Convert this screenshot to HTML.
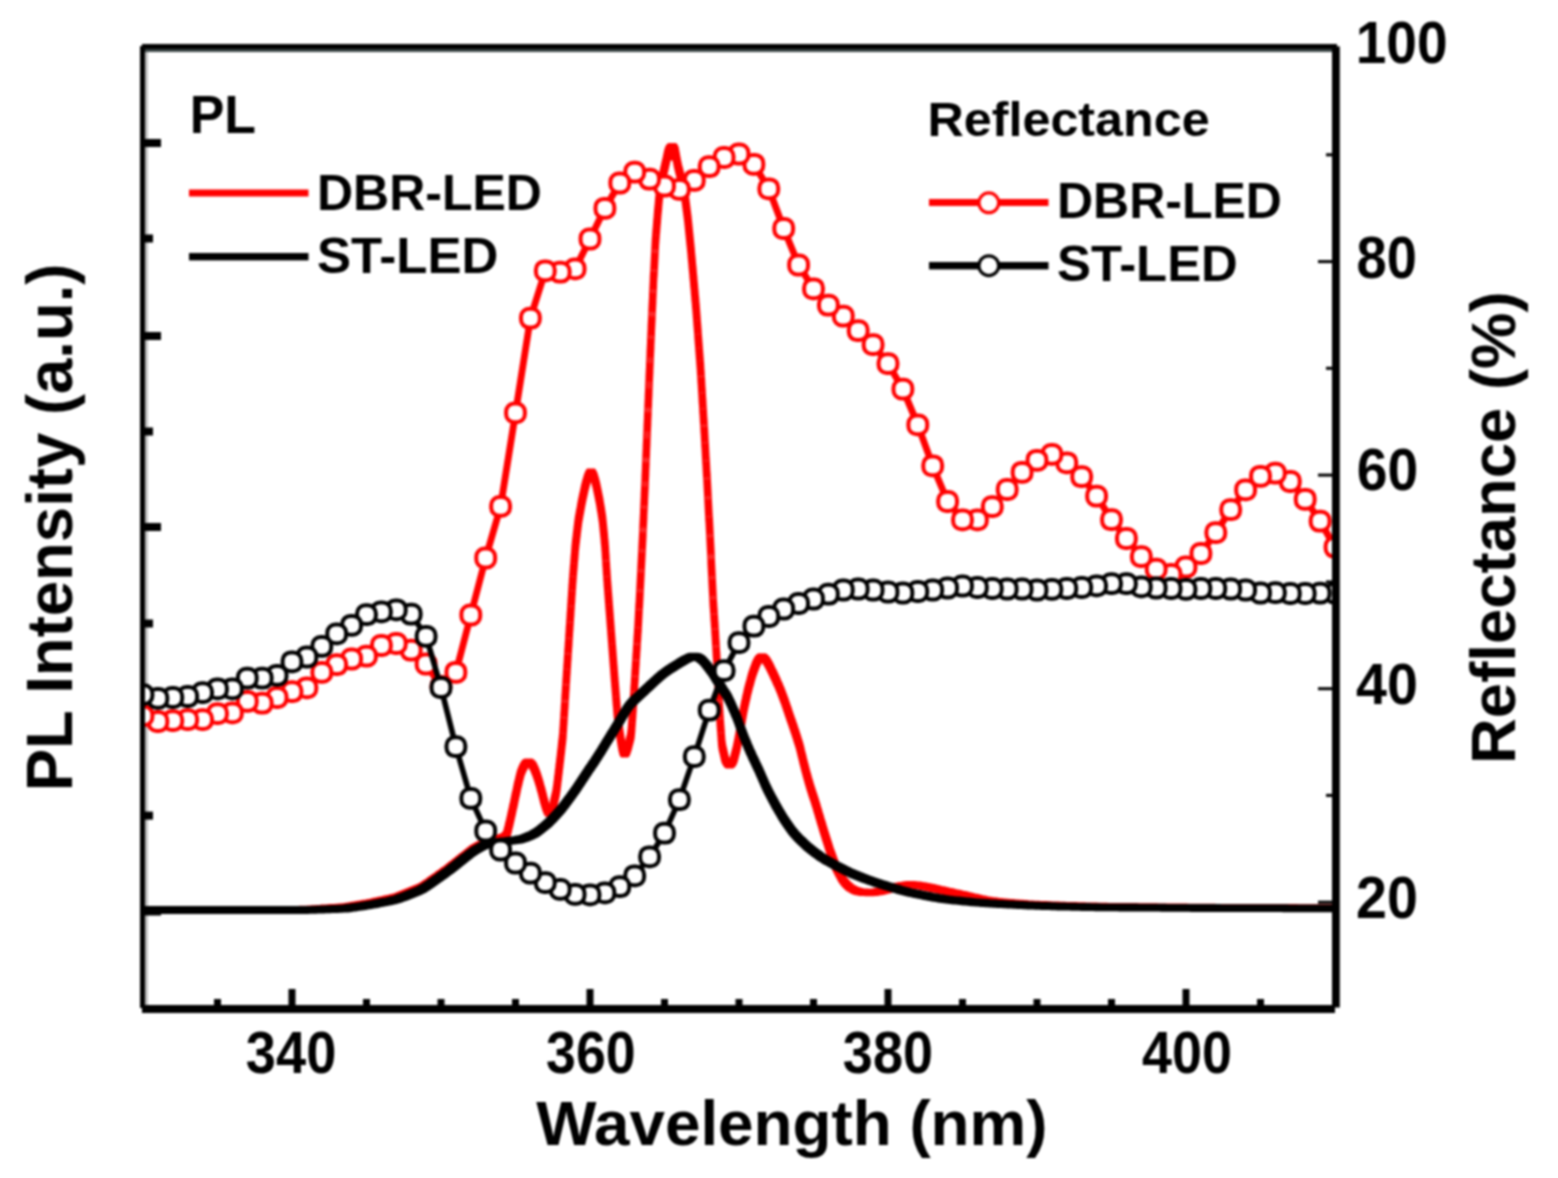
<!DOCTYPE html>
<html lang="en">
<head>
<meta charset="utf-8">
<title>PL Intensity and Reflectance</title>
<style>
html,body{margin:0;padding:0;background:#fff;}
body{width:1558px;height:1178px;overflow:hidden;}
svg{display:block;filter:blur(0.9px);}
text{font-family:"Liberation Sans",sans-serif;font-weight:bold;fill:#000;}
.tk{font-size:56px;}
.lg{font-size:50px;}
.ax{font-size:64px;}
</style>
</head>
<body>
<svg width="1558" height="1178" viewBox="0 0 1558 1178">
<rect x="0" y="0" width="1558" height="1178" fill="#fff"/>
<defs><clipPath id="plot"><rect x="142" y="46" width="1194" height="962"/></clipPath></defs>

<g fill="#000">
<rect x="145" y="49" width="3" height="956" fill="#c0c0c0"/>
<rect x="145" y="49" width="1187" height="3" fill="#3c4646"/>
<rect x="145" y="139" width="16" height="8"/>
<rect x="145" y="234.5" width="8" height="8"/>
<rect x="145" y="332" width="16" height="8"/>
<rect x="145" y="427.5" width="8" height="8"/>
<rect x="145" y="523" width="16" height="8"/>
<rect x="145" y="619.5" width="8" height="8"/>
<rect x="145" y="715.5" width="16" height="8"/>
<rect x="145" y="811.6" width="8" height="8"/>
<rect x="145" y="907.5" width="16" height="8"/>
<rect x="214.0" y="999" width="7" height="6"/>
<rect x="288.5" y="989" width="7" height="16"/>
<rect x="363.0" y="999" width="7" height="6"/>
<rect x="437.5" y="999" width="7" height="6"/>
<rect x="512.0" y="999" width="7" height="6"/>
<rect x="586.5" y="989" width="7" height="16"/>
<rect x="661.0" y="999" width="7" height="6"/>
<rect x="735.5" y="999" width="7" height="6"/>
<rect x="810.0" y="999" width="7" height="6"/>
<rect x="884.5" y="989" width="7" height="16"/>
<rect x="959.0" y="999" width="7" height="6"/>
<rect x="1033.5" y="999" width="7" height="6"/>
<rect x="1108.0" y="999" width="7" height="6"/>
<rect x="1182.5" y="989" width="7" height="16"/>
<rect x="1257.0" y="999" width="7" height="6"/>
<rect x="1318" y="900.7" width="14" height="3"/>
<rect x="1326" y="793.9" width="6" height="3"/>
<rect x="1318" y="687.2" width="14" height="3"/>
<rect x="1326" y="580.4" width="6" height="3"/>
<rect x="1318" y="473.6" width="14" height="3"/>
<rect x="1326" y="366.8" width="6" height="3"/>
<rect x="1318" y="260.1" width="14" height="3"/>
<rect x="1326" y="153.3" width="6" height="3"/>
</g>
<g clip-path="url(#plot)">
<filter id="sq" filterUnits="userSpaceOnUse" x="100" y="20" width="1300" height="1020"><feMorphology operator="dilate" radius="3"/></filter>
<path d="M143.0,910.0 L145.3,910.0 L147.1,910.0 L149.0,910.0 L151.0,910.0 L153.0,910.0 L155.0,910.0 L157.0,910.0 L159.0,910.0 L161.0,910.0 L163.0,910.0 L165.0,910.0 L167.0,910.0 L169.0,910.0 L171.0,910.0 L173.0,910.0 L175.0,910.0 L177.0,910.0 L179.0,910.0 L181.0,910.0 L183.0,910.0 L185.0,910.0 L187.0,910.0 L189.0,910.0 L191.0,910.0 L193.0,910.0 L195.0,910.0 L197.0,910.0 L199.0,910.0 L201.0,910.0 L203.0,910.0 L205.0,910.0 L207.0,910.0 L209.0,910.0 L211.0,910.0 L213.0,910.0 L215.0,910.0 L217.0,910.0 L219.0,910.0 L221.0,910.0 L223.0,910.0 L225.0,910.0 L227.0,910.0 L229.0,910.0 L231.0,910.0 L233.0,910.0 L235.0,910.0 L237.0,910.0 L239.0,910.0 L241.0,910.0 L243.0,910.0 L245.0,910.0 L247.0,910.0 L249.0,910.0 L251.0,910.0 L253.0,910.0 L255.0,910.0 L257.0,910.0 L259.0,910.0 L261.0,910.0 L263.0,910.0 L265.0,909.9 L267.0,909.9 L269.0,909.9 L271.0,909.9 L273.0,909.9 L275.0,909.8 L277.0,909.8 L279.0,909.8 L281.0,909.8 L283.0,909.8 L285.0,909.7 L287.0,909.7 L289.0,909.7 L291.0,909.7 L293.0,909.6 L295.0,909.6 L297.0,909.6 L299.0,909.6 L301.0,909.6 L303.0,909.5 L305.0,909.5 L307.0,909.4 L309.0,909.4 L311.0,909.2 L313.0,909.1 L315.0,909.0 L317.0,908.9 L319.0,908.7 L321.0,908.6 L323.0,908.5 L325.0,908.3 L327.0,908.2 L329.0,908.1 L330.9,907.9 L332.9,907.8 L334.9,907.7 L336.9,907.6 L338.9,907.4 L340.9,907.3 L342.9,907.1 L344.9,906.9 L346.9,906.7 L348.9,906.4 L350.8,906.1 L352.8,905.8 L354.8,905.4 L356.8,905.1 L358.7,904.8 L360.7,904.4 L362.7,904.1 L364.6,903.8 L366.6,903.4 L368.6,903.1 L370.6,902.7 L372.5,902.4 L374.5,902.0 L376.4,901.5 L378.4,901.1 L380.3,900.7 L382.3,900.3 L384.3,899.9 L386.2,899.4 L388.2,899.0 L390.1,898.6 L392.1,898.2 L394.0,897.7 L396.0,897.2 L397.9,896.6 L399.7,895.9 L401.6,895.2 L403.4,894.5 L405.3,893.7 L407.2,893.0 L409.0,892.2 L410.9,891.5 L412.7,890.7 L414.6,890.0 L416.4,889.2 L418.3,888.5 L420.1,887.7 L421.9,886.8 L423.6,885.8 L425.3,884.7 L426.9,883.6 L428.6,882.5 L430.2,881.3 L431.8,880.2 L433.5,879.0 L435.1,877.9 L436.8,876.7 L438.4,875.6 L440.0,874.4 L441.7,873.3 L443.3,872.1 L444.9,870.9 L446.6,869.8 L448.2,868.6 L449.8,867.4 L451.3,866.1 L452.9,864.9 L454.5,863.7 L456.0,862.4 L457.6,861.2 L459.2,859.9 L460.7,858.7 L462.3,857.4 L463.9,856.2 L465.4,855.0 L467.0,853.7 L468.6,852.5 L470.1,851.2 L471.7,850.0 L473.3,848.9 L475.0,847.8 L476.8,846.8 L478.5,845.9 L480.3,845.0 L482.1,844.0 L483.9,843.1 L485.7,842.3 L487.5,841.5 L489.4,840.9 L491.3,840.3 L493.2,839.8 L495.2,839.3 L497.1,838.8 L499.0,838.3 L501.0,837.9 L502.9,837.4 L504.5,836.7 L505.8,835.6 L506.7,834.0 L507.3,832.2 L507.8,830.3 L508.3,828.4 L508.7,826.4 L509.2,824.5 L509.7,822.5 L510.1,820.6 L510.6,818.6 L511.0,816.7 L511.4,814.7 L511.9,812.8 L512.3,810.8 L512.7,808.9 L513.1,806.9 L513.6,805.0 L514.0,803.0 L514.4,801.1 L514.8,799.1 L515.2,797.1 L515.6,795.2 L516.1,793.2 L516.5,791.3 L516.9,789.3 L517.3,787.4 L517.7,785.4 L518.2,783.5 L518.7,781.5 L519.1,779.6 L519.6,777.6 L520.1,775.7 L520.6,773.8 L521.2,771.9 L522.0,770.0 L522.8,768.2 L523.7,766.4 L524.7,764.8 L525.9,763.3 L527.3,762.4 L528.8,762.2 L530.2,762.8 L531.5,764.0 L532.7,765.5 L533.6,767.2 L534.5,769.0 L535.2,770.9 L536.0,772.7 L536.6,774.6 L537.3,776.5 L537.9,778.4 L538.5,780.3 L539.1,782.2 L539.7,784.1 L540.2,786.1 L540.7,788.0 L541.3,789.9 L541.8,791.8 L542.3,793.8 L542.8,795.7 L543.3,797.7 L543.7,799.6 L544.3,801.5 L544.8,803.4 L545.4,805.4 L546.0,807.3 L546.7,809.1 L547.4,810.9 L548.3,812.4 L549.2,813.2 L550.2,812.9 L551.1,811.8 L551.9,810.1 L552.5,808.3 L553.0,806.4 L553.5,804.4 L553.9,802.5 L554.3,800.5 L554.8,798.6 L555.2,796.6 L555.7,794.7 L556.1,792.7 L556.4,790.7 L556.7,788.8 L557.0,786.8 L557.2,784.8 L557.5,782.8 L557.7,780.8 L557.9,778.8 L558.2,776.9 L558.4,774.9 L558.6,772.9 L558.9,770.9 L559.1,768.9 L559.3,766.9 L559.6,764.9 L559.8,762.9 L560.0,761.0 L560.3,759.0 L560.5,757.0 L560.7,755.0 L560.9,753.0 L561.2,751.0 L561.4,749.0 L561.6,747.0 L561.8,745.1 L562.0,743.1 L562.3,741.1 L562.5,739.1 L562.7,737.1 L562.9,735.1 L563.0,733.1 L563.1,731.1 L563.3,729.1 L563.4,727.1 L563.5,725.1 L563.6,723.1 L563.8,721.1 L563.9,719.2 L564.0,717.2 L564.1,715.2 L564.3,713.2 L564.4,711.2 L564.5,709.2 L564.6,707.2 L564.8,705.2 L564.9,703.2 L565.0,701.2 L565.1,699.2 L565.2,697.2 L565.4,695.2 L565.5,693.2 L565.6,691.2 L565.7,689.2 L565.9,687.2 L566.0,685.2 L566.1,683.2 L566.2,681.2 L566.4,679.2 L566.5,677.2 L566.6,675.2 L566.7,673.2 L566.9,671.2 L567.0,669.2 L567.1,667.3 L567.3,665.3 L567.4,663.3 L567.5,661.3 L567.6,659.3 L567.8,657.3 L567.9,655.3 L568.0,653.3 L568.1,651.3 L568.3,649.3 L568.4,647.3 L568.5,645.3 L568.7,643.3 L568.8,641.3 L568.9,639.3 L569.0,637.3 L569.2,635.3 L569.3,633.3 L569.4,631.3 L569.5,629.3 L569.7,627.3 L569.8,625.3 L569.9,623.3 L570.1,621.3 L570.2,619.3 L570.3,617.4 L570.4,615.4 L570.6,613.4 L570.7,611.4 L570.8,609.4 L570.9,607.4 L571.1,605.4 L571.2,603.4 L571.3,601.4 L571.5,599.4 L571.6,597.4 L571.7,595.4 L571.8,593.4 L572.0,591.4 L572.1,589.4 L572.2,587.4 L572.4,585.4 L572.5,583.4 L572.6,581.4 L572.8,579.4 L572.9,577.4 L573.1,575.4 L573.2,573.5 L573.4,571.5 L573.5,569.5 L573.7,567.5 L573.9,565.5 L574.0,563.5 L574.2,561.5 L574.3,559.5 L574.5,557.5 L574.7,555.5 L574.8,553.5 L575.0,551.5 L575.1,549.5 L575.3,547.5 L575.5,545.5 L575.7,543.6 L575.9,541.6 L576.2,539.6 L576.4,537.6 L576.6,535.6 L576.9,533.6 L577.1,531.6 L577.3,529.7 L577.6,527.7 L577.8,525.7 L578.1,523.7 L578.3,521.7 L578.6,519.7 L578.9,517.8 L579.3,515.8 L579.6,513.8 L580.0,511.9 L580.4,509.9 L580.7,507.9 L581.1,506.0 L581.4,504.0 L581.8,502.0 L582.2,500.1 L582.6,498.1 L583.0,496.2 L583.5,494.2 L583.9,492.2 L584.3,490.3 L584.7,488.3 L585.2,486.4 L585.7,484.5 L586.2,482.5 L586.8,480.6 L587.3,478.7 L588.0,476.8 L588.7,475.0 L589.5,473.4 L590.4,472.3 L591.3,472.1 L592.2,473.0 L593.1,474.5 L593.8,476.3 L594.4,478.1 L595.0,480.1 L595.5,482.0 L596.0,483.9 L596.5,485.9 L596.9,487.8 L597.3,489.8 L597.7,491.7 L598.1,493.7 L598.5,495.7 L598.9,497.6 L599.3,499.6 L599.7,501.5 L600.0,503.5 L600.3,505.5 L600.6,507.5 L601.0,509.4 L601.3,511.4 L601.6,513.4 L601.9,515.4 L602.2,517.4 L602.5,519.3 L602.7,521.3 L602.9,523.3 L603.1,525.3 L603.3,527.3 L603.5,529.3 L603.7,531.3 L603.9,533.3 L604.1,535.2 L604.3,537.2 L604.4,539.2 L604.6,541.2 L604.8,543.2 L605.0,545.2 L605.1,547.2 L605.3,549.2 L605.4,551.2 L605.5,553.2 L605.6,555.2 L605.8,557.2 L605.9,559.2 L606.0,561.2 L606.1,563.2 L606.3,565.2 L606.4,567.2 L606.5,569.2 L606.6,571.2 L606.8,573.1 L606.9,575.1 L607.0,577.1 L607.2,579.1 L607.3,581.1 L607.4,583.1 L607.6,585.1 L607.7,587.1 L607.9,589.1 L608.0,591.1 L608.2,593.1 L608.3,595.1 L608.5,597.1 L608.6,599.1 L608.8,601.1 L608.9,603.1 L609.1,605.1 L609.2,607.1 L609.4,609.1 L609.5,611.0 L609.7,613.0 L609.8,615.0 L610.0,617.0 L610.1,619.0 L610.3,621.0 L610.4,623.0 L610.6,625.0 L610.7,627.0 L610.9,629.0 L611.0,631.0 L611.2,633.0 L611.3,635.0 L611.5,637.0 L611.6,639.0 L611.8,641.0 L611.9,643.0 L612.1,645.0 L612.2,646.9 L612.4,648.9 L612.5,650.9 L612.7,652.9 L612.8,654.9 L613.0,656.9 L613.1,658.9 L613.3,660.9 L613.4,662.9 L613.6,664.9 L613.7,666.9 L613.9,668.9 L614.0,670.9 L614.2,672.9 L614.3,674.9 L614.5,676.9 L614.6,678.9 L614.8,680.8 L614.9,682.8 L615.1,684.8 L615.3,686.8 L615.4,688.8 L615.6,690.8 L615.7,692.8 L615.9,694.8 L616.0,696.8 L616.2,698.8 L616.3,700.8 L616.5,702.8 L616.7,704.8 L616.8,706.8 L617.0,708.8 L617.1,710.8 L617.3,712.7 L617.5,714.7 L617.8,716.7 L618.0,718.7 L618.2,720.7 L618.5,722.7 L618.7,724.7 L619.0,726.6 L619.2,728.6 L619.4,730.6 L619.7,732.6 L620.0,734.6 L620.3,736.6 L620.6,738.5 L620.9,740.5 L621.2,742.5 L621.6,744.5 L621.9,746.4 L622.3,748.4 L622.8,750.3 L623.3,752.1 L624.0,753.4 L624.7,753.9 L625.5,753.3 L626.3,751.9 L627.0,750.1 L627.6,748.2 L628.2,746.3 L628.7,744.4 L629.2,742.4 L629.7,740.5 L630.2,738.6 L630.7,736.6 L631.0,734.7 L631.2,732.7 L631.4,730.7 L631.6,728.7 L631.7,726.7 L631.8,724.7 L632.0,722.7 L632.1,720.7 L632.3,718.7 L632.4,716.7 L632.6,714.7 L632.7,712.7 L632.8,710.7 L633.0,708.7 L633.1,706.7 L633.2,704.7 L633.4,702.8 L633.5,700.8 L633.6,698.8 L633.7,696.8 L633.9,694.8 L634.0,692.8 L634.1,690.8 L634.2,688.8 L634.4,686.8 L634.5,684.8 L634.6,682.8 L634.7,680.8 L634.9,678.8 L635.0,676.8 L635.1,674.8 L635.2,672.8 L635.4,670.8 L635.5,668.8 L635.6,666.8 L635.7,664.8 L635.9,662.8 L636.0,660.8 L636.1,658.8 L636.2,656.8 L636.4,654.8 L636.5,652.9 L636.6,650.9 L636.7,648.9 L636.9,646.9 L637.0,644.9 L637.1,642.9 L637.2,640.9 L637.3,638.9 L637.5,636.9 L637.6,634.9 L637.7,632.9 L637.8,630.9 L638.0,628.9 L638.1,626.9 L638.2,624.9 L638.3,622.9 L638.4,620.9 L638.5,618.9 L638.6,616.9 L638.7,614.9 L638.8,612.9 L638.9,610.9 L639.0,608.9 L639.1,606.9 L639.3,604.9 L639.4,602.9 L639.5,600.9 L639.6,598.9 L639.7,596.9 L639.8,594.9 L639.9,592.9 L640.0,591.0 L640.1,589.0 L640.2,587.0 L640.3,585.0 L640.4,583.0 L640.5,581.0 L640.6,579.0 L640.7,577.0 L640.8,575.0 L640.9,573.0 L641.0,571.0 L641.1,569.0 L641.2,567.0 L641.3,565.0 L641.4,563.0 L641.5,561.0 L641.6,559.0 L641.7,557.0 L641.8,555.0 L641.9,553.0 L642.0,551.0 L642.1,549.0 L642.2,547.0 L642.3,545.0 L642.4,543.0 L642.5,541.0 L642.6,539.0 L642.7,537.0 L642.8,535.0 L642.9,533.0 L642.9,531.0 L643.0,529.0 L643.1,527.0 L643.2,525.0 L643.3,523.0 L643.4,521.0 L643.5,519.0 L643.6,517.0 L643.7,515.0 L643.7,513.0 L643.8,511.0 L643.9,509.0 L644.0,507.0 L644.1,505.0 L644.2,503.1 L644.3,501.1 L644.4,499.1 L644.4,497.1 L644.5,495.1 L644.6,493.1 L644.7,491.1 L644.8,489.1 L644.9,487.1 L645.0,485.1 L645.1,483.1 L645.2,481.1 L645.2,479.1 L645.3,477.1 L645.4,475.1 L645.5,473.1 L645.6,471.1 L645.6,469.1 L645.7,467.1 L645.8,465.1 L645.9,463.1 L646.0,461.1 L646.0,459.1 L646.1,457.1 L646.2,455.1 L646.3,453.1 L646.4,451.1 L646.4,449.1 L646.5,447.1 L646.6,445.1 L646.7,443.1 L646.8,441.1 L646.8,439.1 L646.9,437.1 L647.0,435.1 L647.1,433.1 L647.2,431.1 L647.2,429.1 L647.3,427.1 L647.4,425.1 L647.5,423.1 L647.6,421.1 L647.6,419.1 L647.7,417.1 L647.8,415.1 L647.9,413.1 L648.0,411.1 L648.0,409.1 L648.1,407.1 L648.2,405.1 L648.3,403.1 L648.4,401.1 L648.4,399.1 L648.5,397.1 L648.6,395.1 L648.7,393.1 L648.8,391.1 L648.8,389.1 L648.9,387.1 L649.0,385.1 L649.1,383.2 L649.2,381.2 L649.2,379.2 L649.3,377.2 L649.4,375.2 L649.5,373.2 L649.6,371.2 L649.7,369.2 L649.7,367.2 L649.8,365.2 L649.9,363.2 L650.0,361.2 L650.1,359.2 L650.2,357.2 L650.2,355.2 L650.3,353.2 L650.4,351.2 L650.5,349.2 L650.6,347.2 L650.7,345.2 L650.7,343.2 L650.8,341.2 L650.9,339.2 L651.0,337.2 L651.1,335.2 L651.2,333.2 L651.3,331.2 L651.3,329.2 L651.4,327.2 L651.5,325.2 L651.6,323.2 L651.7,321.2 L651.8,319.2 L651.9,317.2 L652.0,315.2 L652.0,313.2 L652.1,311.2 L652.2,309.2 L652.3,307.2 L652.4,305.2 L652.5,303.2 L652.6,301.2 L652.7,299.2 L652.7,297.2 L652.8,295.2 L652.9,293.2 L653.0,291.2 L653.1,289.2 L653.2,287.2 L653.3,285.2 L653.4,283.2 L653.4,281.2 L653.5,279.2 L653.6,277.2 L653.7,275.3 L653.9,273.3 L654.0,271.3 L654.1,269.3 L654.2,267.3 L654.3,265.3 L654.4,263.3 L654.5,261.3 L654.6,259.3 L654.7,257.3 L654.8,255.3 L654.9,253.3 L655.0,251.3 L655.1,249.3 L655.2,247.3 L655.3,245.3 L655.4,243.3 L655.5,241.3 L655.7,239.3 L655.8,237.3 L656.0,235.3 L656.1,233.3 L656.3,231.3 L656.5,229.3 L656.6,227.3 L656.8,225.3 L656.9,223.4 L657.1,221.4 L657.3,219.4 L657.4,217.4 L657.6,215.4 L657.7,213.4 L657.9,211.4 L658.1,209.4 L658.3,207.4 L658.5,205.4 L658.6,203.4 L658.8,201.4 L659.0,199.4 L659.2,197.5 L659.4,195.5 L659.7,193.5 L660.0,191.5 L660.3,189.5 L660.6,187.6 L661.0,185.6 L661.3,183.6 L661.6,181.6 L662.0,179.7 L662.3,177.7 L662.8,175.8 L663.2,173.8 L663.7,171.9 L664.1,169.9 L664.6,168.0 L665.0,166.0 L665.5,164.1 L665.9,162.1 L666.4,160.2 L666.8,158.2 L667.2,156.3 L667.6,154.3 L668.1,152.4 L668.7,150.5 L669.5,148.8 L670.6,147.4 L671.9,146.7 L673.1,147.0 L674.1,148.2 L674.8,149.8 L675.3,151.7 L675.6,153.7 L676.0,155.7 L676.3,157.6 L676.7,159.6 L677.1,161.6 L677.4,163.5 L677.9,165.5 L678.3,167.4 L678.8,169.4 L679.3,171.3 L679.8,173.2 L680.3,175.2 L680.8,177.1 L681.3,179.1 L681.8,181.0 L682.2,182.9 L682.7,184.9 L683.1,186.8 L683.5,188.8 L683.9,190.8 L684.2,192.7 L684.6,194.7 L684.9,196.7 L685.2,198.6 L685.5,200.6 L685.8,202.6 L686.0,204.6 L686.3,206.6 L686.5,208.6 L686.8,210.5 L687.0,212.5 L687.3,214.5 L687.5,216.5 L687.8,218.5 L688.0,220.5 L688.2,222.5 L688.4,224.4 L688.6,226.4 L688.8,228.4 L689.0,230.4 L689.2,232.4 L689.4,234.4 L689.6,236.4 L689.8,238.4 L690.0,240.4 L690.2,242.4 L690.4,244.3 L690.6,246.3 L690.8,248.3 L691.0,250.3 L691.2,252.3 L691.3,254.3 L691.5,256.3 L691.7,258.3 L691.9,260.3 L692.1,262.3 L692.2,264.3 L692.4,266.3 L692.6,268.2 L692.8,270.2 L693.0,272.2 L693.1,274.2 L693.3,276.2 L693.5,278.2 L693.7,280.2 L693.8,282.2 L694.0,284.2 L694.2,286.2 L694.4,288.2 L694.5,290.2 L694.7,292.2 L694.9,294.1 L695.0,296.1 L695.2,298.1 L695.4,300.1 L695.6,302.1 L695.7,304.1 L695.9,306.1 L696.1,308.1 L696.2,310.1 L696.4,312.1 L696.5,314.1 L696.7,316.1 L696.8,318.1 L697.0,320.1 L697.1,322.1 L697.3,324.1 L697.4,326.0 L697.6,328.0 L697.7,330.0 L697.9,332.0 L698.0,334.0 L698.1,336.0 L698.3,338.0 L698.4,340.0 L698.6,342.0 L698.7,344.0 L698.9,346.0 L699.0,348.0 L699.2,350.0 L699.3,352.0 L699.5,354.0 L699.6,356.0 L699.8,358.0 L699.9,360.0 L700.1,361.9 L700.2,363.9 L700.4,365.9 L700.5,367.9 L700.6,369.9 L700.7,371.9 L700.9,373.9 L701.0,375.9 L701.1,377.9 L701.2,379.9 L701.4,381.9 L701.5,383.9 L701.6,385.9 L701.7,387.9 L701.8,389.9 L702.0,391.9 L702.1,393.9 L702.2,395.9 L702.3,397.9 L702.4,399.9 L702.6,401.9 L702.7,403.9 L702.8,405.9 L702.9,407.9 L703.0,409.9 L703.2,411.9 L703.3,413.8 L703.4,415.8 L703.5,417.8 L703.6,419.8 L703.8,421.8 L703.9,423.8 L704.0,425.8 L704.1,427.8 L704.2,429.8 L704.4,431.8 L704.5,433.8 L704.6,435.8 L704.7,437.8 L704.8,439.8 L704.9,441.8 L705.0,443.8 L705.2,445.8 L705.3,447.8 L705.4,449.8 L705.5,451.8 L705.6,453.8 L705.7,455.8 L705.8,457.8 L705.9,459.8 L706.1,461.8 L706.2,463.8 L706.3,465.8 L706.4,467.8 L706.5,469.8 L706.6,471.8 L706.7,473.7 L706.9,475.7 L707.0,477.7 L707.1,479.7 L707.2,481.7 L707.3,483.7 L707.4,485.7 L707.5,487.7 L707.6,489.7 L707.7,491.7 L707.8,493.7 L707.9,495.7 L708.0,497.7 L708.1,499.7 L708.2,501.7 L708.3,503.7 L708.4,505.7 L708.5,507.7 L708.6,509.7 L708.7,511.7 L708.8,513.7 L708.9,515.7 L709.0,517.7 L709.2,519.7 L709.3,521.7 L709.4,523.7 L709.5,525.7 L709.6,527.7 L709.7,529.7 L709.8,531.7 L709.9,533.7 L710.0,535.7 L710.1,537.7 L710.2,539.7 L710.3,541.7 L710.4,543.7 L710.5,545.7 L710.6,547.6 L710.7,549.6 L710.8,551.6 L710.9,553.6 L711.0,555.6 L711.1,557.6 L711.1,559.6 L711.2,561.6 L711.3,563.6 L711.4,565.6 L711.5,567.6 L711.6,569.6 L711.7,571.6 L711.8,573.6 L711.9,575.6 L712.0,577.6 L712.1,579.6 L712.2,581.6 L712.3,583.6 L712.4,585.6 L712.5,587.6 L712.6,589.6 L712.7,591.6 L712.8,593.6 L712.9,595.6 L713.0,597.6 L713.1,599.6 L713.2,601.6 L713.3,603.6 L713.5,605.6 L713.6,607.6 L713.7,609.6 L713.9,611.6 L714.0,613.6 L714.1,615.6 L714.2,617.6 L714.4,619.5 L714.5,621.5 L714.6,623.5 L714.8,625.5 L714.9,627.5 L715.0,629.5 L715.1,631.5 L715.3,633.5 L715.4,635.5 L715.5,637.5 L715.6,639.5 L715.7,641.5 L715.9,643.5 L716.0,645.5 L716.1,647.5 L716.2,649.5 L716.3,651.5 L716.4,653.5 L716.6,655.5 L716.7,657.5 L716.8,659.5 L716.9,661.5 L717.0,663.5 L717.1,665.5 L717.2,667.5 L717.3,669.5 L717.4,671.5 L717.5,673.5 L717.6,675.5 L717.7,677.4 L717.8,679.4 L718.0,681.4 L718.1,683.4 L718.2,685.4 L718.3,687.4 L718.4,689.4 L718.5,691.4 L718.6,693.4 L718.7,695.4 L718.8,697.4 L718.9,699.4 L719.0,701.4 L719.1,703.4 L719.2,705.4 L719.3,707.4 L719.4,709.4 L719.5,711.4 L719.7,713.4 L719.8,715.4 L719.9,717.4 L720.1,719.4 L720.2,721.4 L720.3,723.4 L720.5,725.4 L720.6,727.4 L720.8,729.4 L720.9,731.4 L721.1,733.3 L721.2,735.3 L721.3,737.3 L721.5,739.3 L721.6,741.3 L721.8,743.3 L722.1,745.3 L722.4,747.3 L722.8,749.2 L723.3,751.2 L723.7,753.1 L724.2,755.1 L724.6,757.0 L725.1,758.9 L725.8,760.7 L726.8,762.4 L727.8,763.9 L729.0,764.7 L730.1,764.7 L731.3,763.7 L732.4,762.3 L733.3,760.6 L734.0,758.7 L734.5,756.8 L735.0,754.9 L735.5,752.9 L736.0,751.0 L736.5,749.1 L736.9,747.1 L737.3,745.1 L737.7,743.2 L738.1,741.2 L738.4,739.3 L738.8,737.3 L739.2,735.3 L739.5,733.3 L739.9,731.4 L740.2,729.4 L740.6,727.4 L740.9,725.5 L741.3,723.5 L741.6,721.5 L742.0,719.6 L742.3,717.6 L742.7,715.6 L743.0,713.7 L743.4,711.7 L743.7,709.7 L744.1,707.8 L744.5,705.8 L744.9,703.8 L745.4,701.9 L745.8,699.9 L746.2,698.0 L746.7,696.0 L747.1,694.1 L747.5,692.1 L748.0,690.2 L748.5,688.3 L749.0,686.3 L749.5,684.4 L750.1,682.5 L750.6,680.5 L751.1,678.6 L751.6,676.7 L752.2,674.8 L752.8,672.9 L753.5,671.0 L754.2,669.1 L754.9,667.2 L755.6,665.3 L756.3,663.5 L757.2,661.7 L758.2,660.0 L759.4,658.5 L760.6,657.4 L761.9,657.0 L763.3,657.5 L764.7,658.6 L765.9,660.0 L767.0,661.7 L768.0,663.4 L769.0,665.2 L769.9,666.9 L770.8,668.7 L771.6,670.5 L772.5,672.3 L773.4,674.1 L774.2,675.9 L775.1,677.7 L775.9,679.6 L776.7,681.4 L777.5,683.2 L778.4,685.0 L779.2,686.9 L779.9,688.7 L780.7,690.6 L781.4,692.4 L782.1,694.3 L782.8,696.2 L783.5,698.0 L784.2,699.9 L784.9,701.8 L785.5,703.7 L786.2,705.6 L786.8,707.5 L787.5,709.4 L788.1,711.3 L788.7,713.2 L789.4,715.1 L790.0,717.0 L790.7,718.9 L791.3,720.7 L792.0,722.6 L792.6,724.5 L793.3,726.4 L793.9,728.3 L794.5,730.2 L795.2,732.1 L795.8,734.0 L796.4,735.9 L797.0,737.8 L797.6,739.7 L798.2,741.6 L798.8,743.5 L799.4,745.4 L799.9,747.4 L800.4,749.3 L800.9,751.3 L801.3,753.2 L801.8,755.1 L802.3,757.1 L802.8,759.0 L803.2,761.0 L803.7,762.9 L804.2,764.9 L804.7,766.8 L805.2,768.7 L805.7,770.7 L806.2,772.6 L806.7,774.5 L807.3,776.5 L807.8,778.4 L808.3,780.3 L808.9,782.2 L809.5,784.2 L810.0,786.1 L810.6,788.0 L811.2,789.9 L811.8,791.8 L812.4,793.7 L813.0,795.6 L813.7,797.5 L814.3,799.4 L814.9,801.3 L815.5,803.2 L816.1,805.1 L816.7,807.0 L817.2,809.0 L817.8,810.9 L818.4,812.8 L818.9,814.7 L819.5,816.6 L820.1,818.5 L820.6,820.5 L821.2,822.4 L821.8,824.3 L822.4,826.2 L822.9,828.1 L823.5,830.0 L824.1,832.0 L824.7,833.9 L825.3,835.8 L825.9,837.7 L826.5,839.6 L827.1,841.5 L827.7,843.4 L828.3,845.3 L828.9,847.2 L829.5,849.1 L830.1,851.0 L830.8,852.9 L831.5,854.8 L832.2,856.7 L832.8,858.6 L833.5,860.4 L834.2,862.3 L834.9,864.2 L835.6,866.1 L836.3,867.9 L837.2,869.7 L838.1,871.5 L839.0,873.3 L840.0,875.0 L841.0,876.8 L841.9,878.5 L843.0,880.2 L844.2,881.8 L845.5,883.3 L846.8,884.7 L848.3,886.1 L849.8,887.4 L851.4,888.5 L853.1,889.4 L854.9,890.3 L856.8,891.0 L858.7,891.5 L860.6,891.9 L862.6,892.2 L864.6,892.3 L866.6,892.4 L868.6,892.5 L870.6,892.5 L872.5,892.4 L874.5,892.2 L876.5,891.9 L878.5,891.5 L880.4,891.2 L882.4,890.8 L884.3,890.4 L886.3,889.9 L888.2,889.3 L890.1,888.7 L892.0,888.1 L893.9,887.5 L895.8,887.0 L897.8,886.5 L899.7,886.2 L901.7,885.8 L903.7,885.6 L905.7,885.3 L907.6,885.0 L909.6,884.8 L911.6,884.8 L913.6,884.9 L915.6,885.1 L917.6,885.3 L919.5,885.6 L921.5,885.9 L923.5,886.2 L925.4,886.6 L927.4,887.0 L929.4,887.4 L931.3,887.8 L933.3,888.3 L935.2,888.7 L937.2,889.1 L939.1,889.6 L941.1,890.0 L943.0,890.5 L945.0,890.9 L946.9,891.4 L948.9,891.8 L950.8,892.2 L952.8,892.7 L954.7,893.1 L956.7,893.5 L958.6,893.9 L960.6,894.4 L962.5,894.8 L964.5,895.2 L966.4,895.7 L968.4,896.1 L970.3,896.6 L972.3,897.1 L974.2,897.5 L976.2,898.0 L978.1,898.4 L980.1,898.9 L982.0,899.3 L984.0,899.8 L985.9,900.1 L987.9,900.4 L989.9,900.7 L991.9,900.9 L993.9,901.2 L995.8,901.5 L997.8,901.7 L999.8,901.9 L1001.8,902.1 L1003.8,902.3 L1005.8,902.4 L1007.8,902.6 L1009.8,902.7 L1011.8,902.9 L1013.8,903.1 L1015.8,903.2 L1017.8,903.4 L1019.8,903.5 L1021.7,903.7 L1023.7,903.8 L1025.7,904.0 L1027.7,904.1 L1029.7,904.2 L1031.7,904.4 L1033.7,904.4 L1035.7,904.5 L1037.7,904.6 L1039.7,904.7 L1041.7,904.8 L1043.7,904.8 L1045.7,904.9 L1047.7,905.0 L1049.7,905.1 L1051.7,905.2 L1053.7,905.2 L1055.7,905.3 L1057.7,905.4 L1059.7,905.5 L1061.7,905.5 L1063.7,905.6 L1065.7,905.6 L1067.7,905.7 L1069.7,905.7 L1071.7,905.8 L1073.7,905.8 L1075.7,905.9 L1077.7,905.9 L1079.7,906.0 L1081.7,906.0 L1083.7,906.1 L1085.7,906.1 L1087.7,906.2 L1089.7,906.2 L1091.7,906.3 L1093.7,906.3 L1095.7,906.4 L1097.7,906.4 L1099.7,906.5 L1101.7,906.5 L1103.7,906.5 L1105.7,906.6 L1107.7,906.6 L1109.7,906.6 L1111.7,906.6 L1113.7,906.6 L1115.7,906.7 L1117.7,906.7 L1119.7,906.7 L1121.7,906.7 L1123.7,906.7 L1125.7,906.8 L1127.7,906.8 L1129.7,906.8 L1131.7,906.8 L1133.7,906.8 L1135.7,906.9 L1137.7,906.9 L1139.7,906.9 L1141.7,906.9 L1143.7,906.9 L1145.7,907.0 L1147.7,907.0 L1149.7,907.0 L1151.7,907.0 L1153.7,907.0 L1155.7,907.1 L1157.7,907.1 L1159.7,907.1 L1161.7,907.1 L1163.7,907.1 L1165.7,907.2 L1167.7,907.2 L1169.7,907.2 L1171.7,907.2 L1173.7,907.2 L1175.7,907.3 L1177.7,907.3 L1179.7,907.3 L1181.7,907.3 L1183.7,907.3 L1185.7,907.4 L1187.7,907.4 L1189.7,907.4 L1191.7,907.4 L1193.7,907.4 L1195.7,907.5 L1197.7,907.5 L1199.7,907.5 L1201.7,907.5 L1203.7,907.5 L1205.7,907.5 L1207.7,907.5 L1209.7,907.5 L1211.7,907.5 L1213.7,907.6 L1215.7,907.6 L1217.7,907.6 L1219.7,907.6 L1221.7,907.6 L1223.7,907.6 L1225.7,907.6 L1227.7,907.6 L1229.7,907.6 L1231.7,907.6 L1233.7,907.6 L1235.7,907.6 L1237.7,907.6 L1239.7,907.6 L1241.7,907.7 L1243.7,907.7 L1245.7,907.7 L1247.7,907.7 L1249.7,907.7 L1251.7,907.7 L1253.7,907.7 L1255.7,907.7 L1257.7,907.7 L1259.7,907.7 L1261.7,907.7 L1263.7,907.7 L1265.7,907.7 L1267.7,907.7 L1269.7,907.8 L1271.7,907.8 L1273.7,907.8 L1275.7,907.8 L1277.7,907.8 L1279.7,907.8 L1281.7,907.8 L1283.7,907.8 L1285.7,907.8 L1287.7,907.8 L1289.7,907.8 L1291.7,907.8 L1293.7,907.8 L1295.7,907.9 L1297.7,907.9 L1299.7,907.9 L1301.7,907.9 L1303.7,907.9 L1305.7,907.9 L1307.7,907.9 L1309.7,907.9 L1311.7,907.9 L1313.7,907.9 L1315.7,907.9 L1317.7,907.9 L1319.7,907.9 L1321.7,907.9 L1323.7,908.0 L1325.7,908.0 L1327.7,908.0 L1329.7,908.0 L1331.6,908.0 L1333.4,908.0 L1334.6,908.0 L1336.0,908.0" fill="none" stroke="#f00" stroke-width="1.4" stroke-linejoin="round" filter="url(#sq)"/>
<polygon points="667.5,149 677,149 675.2,160.5 669.6,160.5" fill="#f00"/>
<path d="M143.0,910.0 L145.8,910.0 L147.3,910.0 L149.1,910.0 L151.0,910.0 L153.0,910.0 L155.0,910.0 L157.0,910.0 L159.0,910.0 L161.0,910.0 L163.0,910.0 L165.0,910.0 L167.0,910.0 L169.0,910.0 L171.0,910.0 L173.0,910.0 L175.0,910.0 L177.0,910.0 L179.0,910.0 L181.0,910.0 L183.0,910.0 L185.0,910.0 L187.0,910.0 L189.0,910.0 L191.0,910.0 L193.0,910.0 L195.0,910.0 L197.0,910.0 L199.0,910.0 L201.0,910.0 L203.0,910.0 L205.0,910.0 L207.0,910.0 L209.0,910.0 L211.0,910.0 L213.0,910.0 L215.0,910.0 L217.0,910.0 L219.0,910.0 L221.0,910.0 L223.0,910.0 L225.0,910.0 L227.0,910.0 L229.0,910.0 L231.0,910.0 L233.0,910.0 L235.0,910.0 L237.0,910.0 L239.0,910.0 L241.0,910.0 L243.0,910.0 L245.0,910.0 L247.0,910.0 L249.0,910.0 L251.0,910.0 L253.0,910.0 L255.0,910.0 L257.0,910.0 L259.0,910.0 L261.0,910.0 L263.0,910.0 L265.0,910.0 L267.0,910.0 L269.0,910.0 L271.0,910.0 L273.0,910.0 L275.0,910.0 L277.0,910.0 L279.0,910.0 L281.0,910.0 L283.0,910.0 L285.0,910.0 L287.0,910.0 L289.0,910.0 L291.0,910.0 L293.0,910.0 L295.0,910.0 L297.0,910.0 L299.0,910.0 L301.0,910.0 L303.0,910.0 L305.0,910.0 L307.0,909.9 L309.0,909.9 L311.0,909.8 L313.0,909.8 L315.0,909.7 L317.0,909.6 L319.0,909.6 L321.0,909.5 L323.0,909.4 L325.0,909.3 L327.0,909.3 L329.0,909.2 L331.0,909.1 L333.0,909.1 L335.0,909.0 L337.0,908.9 L339.0,908.8 L341.0,908.7 L343.0,908.6 L345.0,908.5 L346.9,908.3 L348.9,908.0 L350.9,907.7 L352.9,907.5 L354.9,907.2 L356.8,906.9 L358.8,906.6 L360.8,906.3 L362.8,906.0 L364.8,905.6 L366.7,905.3 L368.7,905.0 L370.7,904.7 L372.6,904.3 L374.6,904.0 L376.6,903.6 L378.5,903.2 L380.5,902.8 L382.5,902.4 L384.4,902.0 L386.4,901.6 L388.3,901.3 L390.3,900.9 L392.3,900.4 L394.2,900.0 L396.1,899.5 L398.0,898.9 L399.9,898.2 L401.8,897.5 L403.6,896.8 L405.5,896.1 L407.4,895.3 L409.2,894.6 L411.1,893.8 L412.9,893.1 L414.8,892.3 L416.6,891.6 L418.5,890.8 L420.3,890.0 L422.0,889.1 L423.8,888.1 L425.5,887.0 L427.1,885.9 L428.8,884.8 L430.4,883.7 L432.0,882.5 L433.7,881.4 L435.3,880.2 L437.0,879.1 L438.6,877.9 L440.2,876.8 L441.9,875.6 L443.5,874.5 L445.1,873.3 L446.7,872.1 L448.3,870.9 L449.9,869.7 L451.5,868.5 L453.1,867.3 L454.7,866.0 L456.2,864.8 L457.8,863.5 L459.3,862.3 L460.9,861.0 L462.5,859.8 L464.0,858.5 L465.6,857.3 L467.2,856.1 L468.8,854.8 L470.3,853.6 L471.9,852.4 L473.6,851.3 L475.2,850.2 L476.9,849.2 L478.7,848.2 L480.4,847.2 L482.2,846.3 L484.0,845.4 L485.8,844.7 L487.7,844.0 L489.6,843.5 L491.5,843.1 L493.5,842.8 L495.4,842.5 L497.4,842.3 L499.4,842.0 L501.4,841.8 L503.4,841.5 L505.4,841.3 L507.3,841.1 L509.3,840.8 L511.3,840.6 L513.3,840.4 L515.3,840.2 L517.3,839.9 L519.2,839.5 L521.1,839.1 L523.1,838.5 L524.9,837.9 L526.8,837.2 L528.6,836.4 L530.5,835.7 L532.3,834.8 L534.0,833.9 L535.7,832.9 L537.4,831.8 L539.0,830.6 L540.6,829.4 L542.1,828.1 L543.7,826.9 L545.2,825.6 L546.8,824.3 L548.3,823.0 L549.7,821.6 L551.1,820.2 L552.5,818.8 L553.8,817.3 L555.2,815.8 L556.6,814.4 L557.9,812.9 L559.3,811.4 L560.6,809.9 L561.9,808.4 L563.1,806.8 L564.3,805.2 L565.5,803.6 L566.7,802.0 L567.9,800.4 L569.1,798.8 L570.3,797.2 L571.4,795.6 L572.6,794.0 L573.8,792.3 L574.9,790.7 L576.1,789.1 L577.2,787.4 L578.3,785.7 L579.4,784.1 L580.5,782.4 L581.6,780.7 L582.7,779.1 L583.8,777.4 L584.9,775.7 L586.0,774.1 L587.1,772.4 L588.2,770.7 L589.3,769.1 L590.5,767.4 L591.6,765.8 L592.7,764.1 L593.9,762.5 L595.0,760.8 L596.1,759.1 L597.1,757.4 L598.2,755.7 L599.3,754.1 L600.3,752.4 L601.4,750.7 L602.4,749.0 L603.5,747.3 L604.5,745.6 L605.6,743.8 L606.6,742.1 L607.7,740.4 L608.7,738.7 L609.8,737.0 L610.8,735.3 L611.9,733.6 L612.9,731.9 L614.0,730.2 L615.0,728.5 L616.1,726.8 L617.1,725.1 L618.1,723.4 L619.1,721.7 L620.2,720.0 L621.2,718.2 L622.2,716.5 L623.3,714.8 L624.3,713.1 L625.4,711.4 L626.4,709.7 L627.5,708.1 L628.7,706.4 L629.9,704.8 L631.2,703.3 L632.5,701.9 L633.9,700.5 L635.4,699.1 L636.9,697.8 L638.3,696.4 L639.8,695.1 L641.3,693.7 L642.7,692.3 L644.2,691.0 L645.6,689.6 L647.1,688.2 L648.6,686.9 L650.0,685.5 L651.5,684.1 L652.9,682.8 L654.4,681.4 L655.9,680.1 L657.4,678.7 L658.9,677.4 L660.4,676.1 L661.9,674.8 L663.5,673.6 L665.1,672.4 L666.7,671.2 L668.4,670.1 L670.0,669.0 L671.7,667.9 L673.4,666.9 L675.1,665.8 L676.8,664.7 L678.5,663.7 L680.2,662.6 L681.9,661.6 L683.6,660.6 L685.3,659.6 L687.1,658.7 L688.9,657.9 L690.7,657.2 L692.6,656.7 L694.4,656.6 L696.3,656.8 L698.0,657.3 L699.7,658.2 L701.2,659.3 L702.7,660.6 L704.0,662.0 L705.3,663.5 L706.6,665.1 L707.8,666.6 L709.0,668.2 L710.2,669.9 L711.4,671.5 L712.5,673.1 L713.6,674.8 L714.7,676.5 L715.7,678.2 L716.8,679.9 L717.9,681.6 L718.9,683.2 L720.0,684.9 L721.1,686.6 L722.2,688.3 L723.2,690.0 L724.3,691.7 L725.4,693.3 L726.5,695.0 L727.5,696.7 L728.4,698.5 L729.3,700.3 L730.2,702.1 L731.0,703.9 L731.8,705.7 L732.6,707.6 L733.4,709.4 L734.2,711.2 L735.0,713.1 L735.8,714.9 L736.6,716.7 L737.3,718.6 L738.0,720.5 L738.7,722.4 L739.3,724.2 L740.0,726.1 L740.7,728.0 L741.4,729.9 L742.1,731.8 L742.8,733.6 L743.5,735.5 L744.2,737.4 L744.9,739.2 L745.7,741.1 L746.5,742.9 L747.3,744.8 L748.0,746.6 L748.8,748.4 L749.6,750.3 L750.4,752.1 L751.3,753.9 L752.1,755.8 L752.9,757.6 L753.8,759.4 L754.6,761.2 L755.5,763.0 L756.3,764.8 L757.2,766.6 L758.0,768.4 L758.9,770.2 L759.7,772.1 L760.5,773.9 L761.3,775.7 L762.1,777.6 L762.9,779.4 L763.7,781.2 L764.5,783.1 L765.3,784.9 L766.1,786.7 L767.0,788.5 L767.9,790.3 L768.8,792.1 L769.7,793.9 L770.6,795.6 L771.5,797.4 L772.5,799.2 L773.4,800.9 L774.4,802.7 L775.3,804.5 L776.3,806.2 L777.3,807.9 L778.3,809.7 L779.3,811.4 L780.3,813.1 L781.3,814.8 L782.3,816.6 L783.4,818.3 L784.5,819.9 L785.6,821.6 L786.7,823.3 L787.9,824.9 L789.0,826.5 L790.2,828.2 L791.3,829.8 L792.5,831.4 L793.8,832.9 L795.1,834.5 L796.4,835.9 L797.8,837.3 L799.2,838.8 L800.6,840.2 L802.1,841.5 L803.5,842.9 L805.0,844.3 L806.4,845.7 L807.9,847.0 L809.5,848.3 L811.0,849.5 L812.6,850.8 L814.2,852.0 L815.8,853.2 L817.4,854.3 L819.0,855.5 L820.6,856.7 L822.3,857.8 L824.0,858.8 L825.7,859.9 L827.4,860.9 L829.2,861.8 L830.9,862.8 L832.7,863.8 L834.4,864.7 L836.2,865.7 L838.0,866.6 L839.8,867.5 L841.5,868.4 L843.3,869.3 L845.1,870.2 L846.9,871.1 L848.7,872.0 L850.5,872.8 L852.3,873.6 L854.2,874.4 L856.0,875.1 L857.9,875.9 L859.8,876.6 L861.6,877.4 L863.5,878.1 L865.4,878.8 L867.2,879.5 L869.1,880.2 L871.0,880.8 L872.9,881.5 L874.8,882.2 L876.7,882.8 L878.6,883.4 L880.5,884.0 L882.4,884.6 L884.3,885.2 L886.2,885.8 L888.1,886.4 L890.0,886.9 L891.9,887.5 L893.9,888.1 L895.8,888.6 L897.7,889.2 L899.6,889.8 L901.5,890.3 L903.5,890.9 L905.4,891.4 L907.3,891.9 L909.3,892.4 L911.2,892.8 L913.2,893.2 L915.1,893.6 L917.1,894.0 L919.1,894.4 L921.0,894.8 L923.0,895.2 L924.9,895.6 L926.9,896.0 L928.9,896.4 L930.8,896.8 L932.8,897.1 L934.7,897.5 L936.7,897.9 L938.7,898.2 L940.7,898.5 L942.6,898.8 L944.6,899.1 L946.6,899.4 L948.6,899.6 L950.6,899.9 L952.6,900.1 L954.5,900.3 L956.5,900.5 L958.5,900.7 L960.5,900.9 L962.5,901.1 L964.5,901.3 L966.5,901.5 L968.5,901.7 L970.5,901.9 L972.5,902.1 L974.4,902.3 L976.4,902.4 L978.4,902.6 L980.4,902.7 L982.4,902.9 L984.4,903.0 L986.4,903.1 L988.4,903.3 L990.4,903.4 L992.4,903.5 L994.4,903.6 L996.4,903.8 L998.4,903.9 L1000.4,904.0 L1002.4,904.1 L1004.4,904.2 L1006.4,904.3 L1008.4,904.4 L1010.4,904.5 L1012.4,904.6 L1014.4,904.7 L1016.4,904.8 L1018.4,904.9 L1020.4,905.0 L1022.4,905.1 L1024.4,905.2 L1026.4,905.3 L1028.4,905.4 L1030.3,905.5 L1032.3,905.6 L1034.3,905.6 L1036.3,905.7 L1038.3,905.8 L1040.3,905.8 L1042.3,905.9 L1044.3,906.0 L1046.3,906.0 L1048.3,906.1 L1050.3,906.2 L1052.3,906.2 L1054.3,906.3 L1056.3,906.4 L1058.3,906.4 L1060.3,906.5 L1062.3,906.5 L1064.3,906.6 L1066.3,906.6 L1068.3,906.7 L1070.3,906.7 L1072.3,906.7 L1074.3,906.8 L1076.3,906.8 L1078.3,906.9 L1080.3,906.9 L1082.3,906.9 L1084.3,907.0 L1086.3,907.0 L1088.3,907.1 L1090.3,907.1 L1092.3,907.1 L1094.3,907.2 L1096.3,907.2 L1098.3,907.3 L1100.3,907.3 L1102.3,907.3 L1104.3,907.3 L1106.3,907.3 L1108.3,907.4 L1110.3,907.4 L1112.3,907.4 L1114.3,907.4 L1116.3,907.4 L1118.3,907.4 L1120.3,907.4 L1122.3,907.5 L1124.3,907.5 L1126.3,907.5 L1128.3,907.5 L1130.3,907.5 L1132.3,907.5 L1134.3,907.5 L1136.3,907.6 L1138.3,907.6 L1140.3,907.6 L1142.3,907.6 L1144.3,907.6 L1146.3,907.6 L1148.3,907.6 L1150.3,907.7 L1152.3,907.7 L1154.3,907.7 L1156.3,907.7 L1158.3,907.7 L1160.3,907.7 L1162.3,907.7 L1164.3,907.8 L1166.3,907.8 L1168.3,907.8 L1170.3,907.8 L1172.3,907.8 L1174.3,907.8 L1176.3,907.8 L1178.3,907.8 L1180.3,907.9 L1182.3,907.9 L1184.3,907.9 L1186.3,907.9 L1188.3,907.9 L1190.3,907.9 L1192.3,907.9 L1194.3,908.0 L1196.3,908.0 L1198.3,908.0 L1200.3,908.0 L1202.3,908.0 L1204.3,908.0 L1206.3,908.0 L1208.3,908.0 L1210.3,908.0 L1212.3,908.0 L1214.3,908.0 L1216.3,908.0 L1218.3,908.1 L1220.3,908.1 L1222.3,908.1 L1224.3,908.1 L1226.3,908.1 L1228.3,908.1 L1230.3,908.1 L1232.3,908.1 L1234.3,908.1 L1236.3,908.1 L1238.3,908.1 L1240.3,908.1 L1242.3,908.1 L1244.3,908.1 L1246.3,908.1 L1248.3,908.1 L1250.3,908.1 L1252.3,908.2 L1254.3,908.2 L1256.3,908.2 L1258.3,908.2 L1260.3,908.2 L1262.3,908.2 L1264.3,908.2 L1266.3,908.2 L1268.3,908.2 L1270.3,908.2 L1272.3,908.2 L1274.3,908.2 L1276.3,908.2 L1278.3,908.2 L1280.3,908.2 L1282.3,908.2 L1284.3,908.2 L1286.3,908.3 L1288.3,908.3 L1290.3,908.3 L1292.3,908.3 L1294.3,908.3 L1296.3,908.3 L1298.3,908.3 L1300.3,908.3 L1302.3,908.3 L1304.3,908.3 L1306.3,908.3 L1308.3,908.3 L1310.3,908.3 L1312.3,908.3 L1314.3,908.3 L1316.3,908.3 L1318.3,908.3 L1320.3,908.4 L1322.3,908.4 L1324.3,908.4 L1326.3,908.4 L1328.3,908.4 L1330.2,908.4 L1331.9,908.4 L1333.4,908.4 L1336.0,908.4" fill="none" stroke="#000" stroke-width="1.8" stroke-linejoin="round" filter="url(#sq)"/>
<path d="M143.0,715.8 L157.9,721.5 L172.8,720.6 L187.7,719.6 L202.6,719.6 L217.5,713.6 L232.4,712.8 L247.3,701.3 L262.2,703.2 L277.1,697.5 L292.0,691.7 L306.9,687.8 L321.8,672.4 L336.7,664.7 L351.6,659.0 L366.5,656.1 L381.4,645.5 L396.3,643.5 L411.2,650.2 L426.1,664.0 L441.0,686.5 L455.9,672.3 L470.8,615.0 L485.7,558.0 L500.6,506.4 L515.5,412.9 L530.4,318.2 L545.3,270.8 L560.2,272.2 L575.1,268.9 L590.0,239.0 L604.9,208.3 L619.8,183.0 L634.7,172.2 L649.6,179.2 L664.5,186.0 L679.4,189.3 L694.3,180.3 L709.2,166.7 L724.1,157.5 L739.0,154.0 L753.9,164.3 L768.8,188.8 L783.7,228.5 L798.6,265.0 L813.5,288.8 L828.4,305.2 L843.3,316.1 L858.2,330.7 L873.1,344.6 L888.0,363.6 L902.9,389.1 L917.8,424.9 L932.7,465.8 L947.6,501.5 L962.5,519.8 L977.4,519.8 L992.3,506.6 L1007.2,489.5 L1022.1,472.3 L1037.0,460.3 L1051.9,454.4 L1066.8,462.8 L1081.7,476.7 L1096.6,496.1 L1111.5,519.7 L1126.4,538.5 L1141.3,556.6 L1156.2,569.1 L1171.1,574.4 L1186.0,567.0 L1200.9,553.5 L1215.8,532.6 L1230.7,509.7 L1245.6,489.9 L1260.5,476.3 L1275.4,473.2 L1290.3,481.5 L1305.2,499.3 L1320.1,521.2 L1335.0,547.2" fill="none" stroke="#f00" stroke-width="6.8" stroke-linejoin="round"/>
<rect x="1325.6" y="537.8" width="18.8" height="18.8" rx="8.0" fill="#fff" stroke="#f00" stroke-width="4.0"/>
<rect x="1310.7" y="511.8" width="18.8" height="18.8" rx="8.0" fill="#fff" stroke="#f00" stroke-width="4.0"/>
<rect x="1295.8" y="489.9" width="18.8" height="18.8" rx="8.0" fill="#fff" stroke="#f00" stroke-width="4.0"/>
<rect x="1280.9" y="472.1" width="18.8" height="18.8" rx="8.0" fill="#fff" stroke="#f00" stroke-width="4.0"/>
<rect x="1266.0" y="463.8" width="18.8" height="18.8" rx="8.0" fill="#fff" stroke="#f00" stroke-width="4.0"/>
<rect x="1251.1" y="466.9" width="18.8" height="18.8" rx="8.0" fill="#fff" stroke="#f00" stroke-width="4.0"/>
<rect x="1236.2" y="480.5" width="18.8" height="18.8" rx="8.0" fill="#fff" stroke="#f00" stroke-width="4.0"/>
<rect x="1221.3" y="500.3" width="18.8" height="18.8" rx="8.0" fill="#fff" stroke="#f00" stroke-width="4.0"/>
<rect x="1206.4" y="523.2" width="18.8" height="18.8" rx="8.0" fill="#fff" stroke="#f00" stroke-width="4.0"/>
<rect x="1191.5" y="544.1" width="18.8" height="18.8" rx="8.0" fill="#fff" stroke="#f00" stroke-width="4.0"/>
<rect x="1176.6" y="557.6" width="18.8" height="18.8" rx="8.0" fill="#fff" stroke="#f00" stroke-width="4.0"/>
<rect x="1161.7" y="565.0" width="18.8" height="18.8" rx="8.0" fill="#fff" stroke="#f00" stroke-width="4.0"/>
<rect x="1146.8" y="559.7" width="18.8" height="18.8" rx="8.0" fill="#fff" stroke="#f00" stroke-width="4.0"/>
<rect x="1131.9" y="547.2" width="18.8" height="18.8" rx="8.0" fill="#fff" stroke="#f00" stroke-width="4.0"/>
<rect x="1117.0" y="529.1" width="18.8" height="18.8" rx="8.0" fill="#fff" stroke="#f00" stroke-width="4.0"/>
<rect x="1102.1" y="510.3" width="18.8" height="18.8" rx="8.0" fill="#fff" stroke="#f00" stroke-width="4.0"/>
<rect x="1087.2" y="486.7" width="18.8" height="18.8" rx="8.0" fill="#fff" stroke="#f00" stroke-width="4.0"/>
<rect x="1072.3" y="467.3" width="18.8" height="18.8" rx="8.0" fill="#fff" stroke="#f00" stroke-width="4.0"/>
<rect x="1057.4" y="453.4" width="18.8" height="18.8" rx="8.0" fill="#fff" stroke="#f00" stroke-width="4.0"/>
<rect x="1042.5" y="445.0" width="18.8" height="18.8" rx="8.0" fill="#fff" stroke="#f00" stroke-width="4.0"/>
<rect x="1027.6" y="450.9" width="18.8" height="18.8" rx="8.0" fill="#fff" stroke="#f00" stroke-width="4.0"/>
<rect x="1012.7" y="462.9" width="18.8" height="18.8" rx="8.0" fill="#fff" stroke="#f00" stroke-width="4.0"/>
<rect x="997.8" y="480.1" width="18.8" height="18.8" rx="8.0" fill="#fff" stroke="#f00" stroke-width="4.0"/>
<rect x="982.9" y="497.2" width="18.8" height="18.8" rx="8.0" fill="#fff" stroke="#f00" stroke-width="4.0"/>
<rect x="968.0" y="510.4" width="18.8" height="18.8" rx="8.0" fill="#fff" stroke="#f00" stroke-width="4.0"/>
<rect x="953.1" y="510.4" width="18.8" height="18.8" rx="8.0" fill="#fff" stroke="#f00" stroke-width="4.0"/>
<rect x="938.2" y="492.1" width="18.8" height="18.8" rx="8.0" fill="#fff" stroke="#f00" stroke-width="4.0"/>
<rect x="923.3" y="456.4" width="18.8" height="18.8" rx="8.0" fill="#fff" stroke="#f00" stroke-width="4.0"/>
<rect x="908.4" y="415.5" width="18.8" height="18.8" rx="8.0" fill="#fff" stroke="#f00" stroke-width="4.0"/>
<rect x="893.5" y="379.7" width="18.8" height="18.8" rx="8.0" fill="#fff" stroke="#f00" stroke-width="4.0"/>
<rect x="878.6" y="354.2" width="18.8" height="18.8" rx="8.0" fill="#fff" stroke="#f00" stroke-width="4.0"/>
<rect x="863.7" y="335.2" width="18.8" height="18.8" rx="8.0" fill="#fff" stroke="#f00" stroke-width="4.0"/>
<rect x="848.8" y="321.3" width="18.8" height="18.8" rx="8.0" fill="#fff" stroke="#f00" stroke-width="4.0"/>
<rect x="833.9" y="306.7" width="18.8" height="18.8" rx="8.0" fill="#fff" stroke="#f00" stroke-width="4.0"/>
<rect x="819.0" y="295.8" width="18.8" height="18.8" rx="8.0" fill="#fff" stroke="#f00" stroke-width="4.0"/>
<rect x="804.1" y="279.4" width="18.8" height="18.8" rx="8.0" fill="#fff" stroke="#f00" stroke-width="4.0"/>
<rect x="789.2" y="255.6" width="18.8" height="18.8" rx="8.0" fill="#fff" stroke="#f00" stroke-width="4.0"/>
<rect x="774.3" y="219.1" width="18.8" height="18.8" rx="8.0" fill="#fff" stroke="#f00" stroke-width="4.0"/>
<rect x="759.4" y="179.4" width="18.8" height="18.8" rx="8.0" fill="#fff" stroke="#f00" stroke-width="4.0"/>
<rect x="744.5" y="154.9" width="18.8" height="18.8" rx="8.0" fill="#fff" stroke="#f00" stroke-width="4.0"/>
<rect x="729.6" y="144.6" width="18.8" height="18.8" rx="8.0" fill="#fff" stroke="#f00" stroke-width="4.0"/>
<rect x="714.7" y="148.1" width="18.8" height="18.8" rx="8.0" fill="#fff" stroke="#f00" stroke-width="4.0"/>
<rect x="699.8" y="157.3" width="18.8" height="18.8" rx="8.0" fill="#fff" stroke="#f00" stroke-width="4.0"/>
<rect x="684.9" y="170.9" width="18.8" height="18.8" rx="8.0" fill="#fff" stroke="#f00" stroke-width="4.0"/>
<rect x="670.0" y="179.9" width="18.8" height="18.8" rx="8.0" fill="#fff" stroke="#f00" stroke-width="4.0"/>
<rect x="655.1" y="176.6" width="18.8" height="18.8" rx="8.0" fill="#fff" stroke="#f00" stroke-width="4.0"/>
<rect x="640.2" y="169.8" width="18.8" height="18.8" rx="8.0" fill="#fff" stroke="#f00" stroke-width="4.0"/>
<rect x="625.3" y="162.8" width="18.8" height="18.8" rx="8.0" fill="#fff" stroke="#f00" stroke-width="4.0"/>
<rect x="610.4" y="173.6" width="18.8" height="18.8" rx="8.0" fill="#fff" stroke="#f00" stroke-width="4.0"/>
<rect x="595.5" y="198.9" width="18.8" height="18.8" rx="8.0" fill="#fff" stroke="#f00" stroke-width="4.0"/>
<rect x="580.6" y="229.6" width="18.8" height="18.8" rx="8.0" fill="#fff" stroke="#f00" stroke-width="4.0"/>
<rect x="565.7" y="259.5" width="18.8" height="18.8" rx="8.0" fill="#fff" stroke="#f00" stroke-width="4.0"/>
<rect x="550.8" y="262.8" width="18.8" height="18.8" rx="8.0" fill="#fff" stroke="#f00" stroke-width="4.0"/>
<rect x="535.9" y="261.4" width="18.8" height="18.8" rx="8.0" fill="#fff" stroke="#f00" stroke-width="4.0"/>
<rect x="521.0" y="308.8" width="18.8" height="18.8" rx="8.0" fill="#fff" stroke="#f00" stroke-width="4.0"/>
<rect x="506.1" y="403.5" width="18.8" height="18.8" rx="8.0" fill="#fff" stroke="#f00" stroke-width="4.0"/>
<rect x="491.2" y="497.0" width="18.8" height="18.8" rx="8.0" fill="#fff" stroke="#f00" stroke-width="4.0"/>
<rect x="476.3" y="548.6" width="18.8" height="18.8" rx="8.0" fill="#fff" stroke="#f00" stroke-width="4.0"/>
<rect x="461.4" y="605.6" width="18.8" height="18.8" rx="8.0" fill="#fff" stroke="#f00" stroke-width="4.0"/>
<rect x="446.5" y="662.9" width="18.8" height="18.8" rx="8.0" fill="#fff" stroke="#f00" stroke-width="4.0"/>
<rect x="431.6" y="677.1" width="18.8" height="18.8" rx="8.0" fill="#fff" stroke="#f00" stroke-width="4.0"/>
<rect x="416.7" y="654.6" width="18.8" height="18.8" rx="8.0" fill="#fff" stroke="#f00" stroke-width="4.0"/>
<rect x="401.8" y="640.8" width="18.8" height="18.8" rx="8.0" fill="#fff" stroke="#f00" stroke-width="4.0"/>
<rect x="386.9" y="634.1" width="18.8" height="18.8" rx="8.0" fill="#fff" stroke="#f00" stroke-width="4.0"/>
<rect x="372.0" y="636.1" width="18.8" height="18.8" rx="8.0" fill="#fff" stroke="#f00" stroke-width="4.0"/>
<rect x="357.1" y="646.7" width="18.8" height="18.8" rx="8.0" fill="#fff" stroke="#f00" stroke-width="4.0"/>
<rect x="342.2" y="649.6" width="18.8" height="18.8" rx="8.0" fill="#fff" stroke="#f00" stroke-width="4.0"/>
<rect x="327.3" y="655.3" width="18.8" height="18.8" rx="8.0" fill="#fff" stroke="#f00" stroke-width="4.0"/>
<rect x="312.4" y="663.0" width="18.8" height="18.8" rx="8.0" fill="#fff" stroke="#f00" stroke-width="4.0"/>
<rect x="297.5" y="678.4" width="18.8" height="18.8" rx="8.0" fill="#fff" stroke="#f00" stroke-width="4.0"/>
<rect x="282.6" y="682.3" width="18.8" height="18.8" rx="8.0" fill="#fff" stroke="#f00" stroke-width="4.0"/>
<rect x="267.7" y="688.1" width="18.8" height="18.8" rx="8.0" fill="#fff" stroke="#f00" stroke-width="4.0"/>
<rect x="252.8" y="693.8" width="18.8" height="18.8" rx="8.0" fill="#fff" stroke="#f00" stroke-width="4.0"/>
<rect x="237.9" y="691.9" width="18.8" height="18.8" rx="8.0" fill="#fff" stroke="#f00" stroke-width="4.0"/>
<rect x="223.0" y="703.4" width="18.8" height="18.8" rx="8.0" fill="#fff" stroke="#f00" stroke-width="4.0"/>
<rect x="208.1" y="704.2" width="18.8" height="18.8" rx="8.0" fill="#fff" stroke="#f00" stroke-width="4.0"/>
<rect x="193.2" y="710.2" width="18.8" height="18.8" rx="8.0" fill="#fff" stroke="#f00" stroke-width="4.0"/>
<rect x="178.3" y="710.2" width="18.8" height="18.8" rx="8.0" fill="#fff" stroke="#f00" stroke-width="4.0"/>
<rect x="163.4" y="711.2" width="18.8" height="18.8" rx="8.0" fill="#fff" stroke="#f00" stroke-width="4.0"/>
<rect x="148.5" y="712.1" width="18.8" height="18.8" rx="8.0" fill="#fff" stroke="#f00" stroke-width="4.0"/>
<rect x="133.6" y="706.4" width="18.8" height="18.8" rx="8.0" fill="#fff" stroke="#f00" stroke-width="4.0"/>
<path d="M143.0,694.6 L157.9,698.4 L172.8,697.5 L187.7,696.5 L202.6,692.6 L217.5,688.8 L232.4,688.8 L247.3,678.2 L262.2,678.2 L277.1,675.3 L292.0,661.8 L306.9,657.0 L321.8,646.4 L336.7,633.9 L351.6,625.3 L366.5,614.7 L381.4,611.8 L396.3,609.8 L411.2,614.2 L426.1,636.4 L441.0,687.5 L455.9,746.7 L470.8,798.4 L485.7,831.0 L500.6,850.0 L515.5,863.0 L530.4,873.1 L545.3,882.6 L560.2,889.4 L575.1,894.3 L590.0,894.8 L604.9,892.9 L619.8,886.7 L634.7,875.8 L649.6,856.8 L664.5,833.2 L679.4,799.7 L694.3,756.6 L709.2,710.2 L724.1,670.6 L739.0,642.6 L753.9,626.2 L768.8,616.5 L783.7,609.0 L798.6,603.5 L813.5,599.0 L828.4,594.2 L843.3,590.0 L858.2,589.0 L873.1,590.0 L888.0,592.0 L902.9,593.0 L917.8,591.5 L932.7,590.0 L947.6,588.0 L962.5,586.0 L977.4,587.5 L992.3,588.5 L1007.2,589.0 L1022.1,589.0 L1037.0,590.0 L1051.9,589.4 L1066.8,588.5 L1081.7,587.5 L1096.6,585.8 L1111.5,583.7 L1126.4,583.7 L1141.3,586.9 L1156.2,588.0 L1171.1,588.5 L1186.0,589.4 L1200.9,588.5 L1215.8,588.5 L1230.7,589.0 L1245.6,590.0 L1260.5,593.0 L1275.4,592.7 L1290.3,593.5 L1305.2,593.5 L1320.1,593.1 L1335.0,593.1" fill="none" stroke="#000" stroke-width="5.6" stroke-linejoin="round"/>
<rect x="1325.6" y="583.7" width="18.8" height="18.8" rx="8.0" fill="#fff" stroke="#000" stroke-width="4.0"/>
<rect x="1310.7" y="583.7" width="18.8" height="18.8" rx="8.0" fill="#fff" stroke="#000" stroke-width="4.0"/>
<rect x="1295.8" y="584.1" width="18.8" height="18.8" rx="8.0" fill="#fff" stroke="#000" stroke-width="4.0"/>
<rect x="1280.9" y="584.1" width="18.8" height="18.8" rx="8.0" fill="#fff" stroke="#000" stroke-width="4.0"/>
<rect x="1266.0" y="583.3" width="18.8" height="18.8" rx="8.0" fill="#fff" stroke="#000" stroke-width="4.0"/>
<rect x="1251.1" y="583.6" width="18.8" height="18.8" rx="8.0" fill="#fff" stroke="#000" stroke-width="4.0"/>
<rect x="1236.2" y="580.6" width="18.8" height="18.8" rx="8.0" fill="#fff" stroke="#000" stroke-width="4.0"/>
<rect x="1221.3" y="579.6" width="18.8" height="18.8" rx="8.0" fill="#fff" stroke="#000" stroke-width="4.0"/>
<rect x="1206.4" y="579.1" width="18.8" height="18.8" rx="8.0" fill="#fff" stroke="#000" stroke-width="4.0"/>
<rect x="1191.5" y="579.1" width="18.8" height="18.8" rx="8.0" fill="#fff" stroke="#000" stroke-width="4.0"/>
<rect x="1176.6" y="580.0" width="18.8" height="18.8" rx="8.0" fill="#fff" stroke="#000" stroke-width="4.0"/>
<rect x="1161.7" y="579.1" width="18.8" height="18.8" rx="8.0" fill="#fff" stroke="#000" stroke-width="4.0"/>
<rect x="1146.8" y="578.6" width="18.8" height="18.8" rx="8.0" fill="#fff" stroke="#000" stroke-width="4.0"/>
<rect x="1131.9" y="577.5" width="18.8" height="18.8" rx="8.0" fill="#fff" stroke="#000" stroke-width="4.0"/>
<rect x="1117.0" y="574.3" width="18.8" height="18.8" rx="8.0" fill="#fff" stroke="#000" stroke-width="4.0"/>
<rect x="1102.1" y="574.3" width="18.8" height="18.8" rx="8.0" fill="#fff" stroke="#000" stroke-width="4.0"/>
<rect x="1087.2" y="576.4" width="18.8" height="18.8" rx="8.0" fill="#fff" stroke="#000" stroke-width="4.0"/>
<rect x="1072.3" y="578.1" width="18.8" height="18.8" rx="8.0" fill="#fff" stroke="#000" stroke-width="4.0"/>
<rect x="1057.4" y="579.1" width="18.8" height="18.8" rx="8.0" fill="#fff" stroke="#000" stroke-width="4.0"/>
<rect x="1042.5" y="580.0" width="18.8" height="18.8" rx="8.0" fill="#fff" stroke="#000" stroke-width="4.0"/>
<rect x="1027.6" y="580.6" width="18.8" height="18.8" rx="8.0" fill="#fff" stroke="#000" stroke-width="4.0"/>
<rect x="1012.7" y="579.6" width="18.8" height="18.8" rx="8.0" fill="#fff" stroke="#000" stroke-width="4.0"/>
<rect x="997.8" y="579.6" width="18.8" height="18.8" rx="8.0" fill="#fff" stroke="#000" stroke-width="4.0"/>
<rect x="982.9" y="579.1" width="18.8" height="18.8" rx="8.0" fill="#fff" stroke="#000" stroke-width="4.0"/>
<rect x="968.0" y="578.1" width="18.8" height="18.8" rx="8.0" fill="#fff" stroke="#000" stroke-width="4.0"/>
<rect x="953.1" y="576.6" width="18.8" height="18.8" rx="8.0" fill="#fff" stroke="#000" stroke-width="4.0"/>
<rect x="938.2" y="578.6" width="18.8" height="18.8" rx="8.0" fill="#fff" stroke="#000" stroke-width="4.0"/>
<rect x="923.3" y="580.6" width="18.8" height="18.8" rx="8.0" fill="#fff" stroke="#000" stroke-width="4.0"/>
<rect x="908.4" y="582.1" width="18.8" height="18.8" rx="8.0" fill="#fff" stroke="#000" stroke-width="4.0"/>
<rect x="893.5" y="583.6" width="18.8" height="18.8" rx="8.0" fill="#fff" stroke="#000" stroke-width="4.0"/>
<rect x="878.6" y="582.6" width="18.8" height="18.8" rx="8.0" fill="#fff" stroke="#000" stroke-width="4.0"/>
<rect x="863.7" y="580.6" width="18.8" height="18.8" rx="8.0" fill="#fff" stroke="#000" stroke-width="4.0"/>
<rect x="848.8" y="579.6" width="18.8" height="18.8" rx="8.0" fill="#fff" stroke="#000" stroke-width="4.0"/>
<rect x="833.9" y="580.6" width="18.8" height="18.8" rx="8.0" fill="#fff" stroke="#000" stroke-width="4.0"/>
<rect x="819.0" y="584.8" width="18.8" height="18.8" rx="8.0" fill="#fff" stroke="#000" stroke-width="4.0"/>
<rect x="804.1" y="589.6" width="18.8" height="18.8" rx="8.0" fill="#fff" stroke="#000" stroke-width="4.0"/>
<rect x="789.2" y="594.1" width="18.8" height="18.8" rx="8.0" fill="#fff" stroke="#000" stroke-width="4.0"/>
<rect x="774.3" y="599.6" width="18.8" height="18.8" rx="8.0" fill="#fff" stroke="#000" stroke-width="4.0"/>
<rect x="759.4" y="607.1" width="18.8" height="18.8" rx="8.0" fill="#fff" stroke="#000" stroke-width="4.0"/>
<rect x="744.5" y="616.8" width="18.8" height="18.8" rx="8.0" fill="#fff" stroke="#000" stroke-width="4.0"/>
<rect x="729.6" y="633.2" width="18.8" height="18.8" rx="8.0" fill="#fff" stroke="#000" stroke-width="4.0"/>
<rect x="714.7" y="661.2" width="18.8" height="18.8" rx="8.0" fill="#fff" stroke="#000" stroke-width="4.0"/>
<rect x="699.8" y="700.8" width="18.8" height="18.8" rx="8.0" fill="#fff" stroke="#000" stroke-width="4.0"/>
<rect x="684.9" y="747.2" width="18.8" height="18.8" rx="8.0" fill="#fff" stroke="#000" stroke-width="4.0"/>
<rect x="670.0" y="790.3" width="18.8" height="18.8" rx="8.0" fill="#fff" stroke="#000" stroke-width="4.0"/>
<rect x="655.1" y="823.8" width="18.8" height="18.8" rx="8.0" fill="#fff" stroke="#000" stroke-width="4.0"/>
<rect x="640.2" y="847.4" width="18.8" height="18.8" rx="8.0" fill="#fff" stroke="#000" stroke-width="4.0"/>
<rect x="625.3" y="866.4" width="18.8" height="18.8" rx="8.0" fill="#fff" stroke="#000" stroke-width="4.0"/>
<rect x="610.4" y="877.3" width="18.8" height="18.8" rx="8.0" fill="#fff" stroke="#000" stroke-width="4.0"/>
<rect x="595.5" y="883.5" width="18.8" height="18.8" rx="8.0" fill="#fff" stroke="#000" stroke-width="4.0"/>
<rect x="580.6" y="885.4" width="18.8" height="18.8" rx="8.0" fill="#fff" stroke="#000" stroke-width="4.0"/>
<rect x="565.7" y="884.9" width="18.8" height="18.8" rx="8.0" fill="#fff" stroke="#000" stroke-width="4.0"/>
<rect x="550.8" y="880.0" width="18.8" height="18.8" rx="8.0" fill="#fff" stroke="#000" stroke-width="4.0"/>
<rect x="535.9" y="873.2" width="18.8" height="18.8" rx="8.0" fill="#fff" stroke="#000" stroke-width="4.0"/>
<rect x="521.0" y="863.7" width="18.8" height="18.8" rx="8.0" fill="#fff" stroke="#000" stroke-width="4.0"/>
<rect x="506.1" y="853.6" width="18.8" height="18.8" rx="8.0" fill="#fff" stroke="#000" stroke-width="4.0"/>
<rect x="491.2" y="840.6" width="18.8" height="18.8" rx="8.0" fill="#fff" stroke="#000" stroke-width="4.0"/>
<rect x="476.3" y="821.6" width="18.8" height="18.8" rx="8.0" fill="#fff" stroke="#000" stroke-width="4.0"/>
<rect x="461.4" y="789.0" width="18.8" height="18.8" rx="8.0" fill="#fff" stroke="#000" stroke-width="4.0"/>
<rect x="446.5" y="737.3" width="18.8" height="18.8" rx="8.0" fill="#fff" stroke="#000" stroke-width="4.0"/>
<rect x="431.6" y="678.1" width="18.8" height="18.8" rx="8.0" fill="#fff" stroke="#000" stroke-width="4.0"/>
<rect x="416.7" y="627.0" width="18.8" height="18.8" rx="8.0" fill="#fff" stroke="#000" stroke-width="4.0"/>
<rect x="401.8" y="604.8" width="18.8" height="18.8" rx="8.0" fill="#fff" stroke="#000" stroke-width="4.0"/>
<rect x="386.9" y="600.4" width="18.8" height="18.8" rx="8.0" fill="#fff" stroke="#000" stroke-width="4.0"/>
<rect x="372.0" y="602.4" width="18.8" height="18.8" rx="8.0" fill="#fff" stroke="#000" stroke-width="4.0"/>
<rect x="357.1" y="605.3" width="18.8" height="18.8" rx="8.0" fill="#fff" stroke="#000" stroke-width="4.0"/>
<rect x="342.2" y="615.9" width="18.8" height="18.8" rx="8.0" fill="#fff" stroke="#000" stroke-width="4.0"/>
<rect x="327.3" y="624.5" width="18.8" height="18.8" rx="8.0" fill="#fff" stroke="#000" stroke-width="4.0"/>
<rect x="312.4" y="637.0" width="18.8" height="18.8" rx="8.0" fill="#fff" stroke="#000" stroke-width="4.0"/>
<rect x="297.5" y="647.6" width="18.8" height="18.8" rx="8.0" fill="#fff" stroke="#000" stroke-width="4.0"/>
<rect x="282.6" y="652.4" width="18.8" height="18.8" rx="8.0" fill="#fff" stroke="#000" stroke-width="4.0"/>
<rect x="267.7" y="665.9" width="18.8" height="18.8" rx="8.0" fill="#fff" stroke="#000" stroke-width="4.0"/>
<rect x="252.8" y="668.8" width="18.8" height="18.8" rx="8.0" fill="#fff" stroke="#000" stroke-width="4.0"/>
<rect x="237.9" y="668.8" width="18.8" height="18.8" rx="8.0" fill="#fff" stroke="#000" stroke-width="4.0"/>
<rect x="223.0" y="679.4" width="18.8" height="18.8" rx="8.0" fill="#fff" stroke="#000" stroke-width="4.0"/>
<rect x="208.1" y="679.4" width="18.8" height="18.8" rx="8.0" fill="#fff" stroke="#000" stroke-width="4.0"/>
<rect x="193.2" y="683.2" width="18.8" height="18.8" rx="8.0" fill="#fff" stroke="#000" stroke-width="4.0"/>
<rect x="178.3" y="687.1" width="18.8" height="18.8" rx="8.0" fill="#fff" stroke="#000" stroke-width="4.0"/>
<rect x="163.4" y="688.1" width="18.8" height="18.8" rx="8.0" fill="#fff" stroke="#000" stroke-width="4.0"/>
<rect x="148.5" y="689.0" width="18.8" height="18.8" rx="8.0" fill="#fff" stroke="#000" stroke-width="4.0"/>
<rect x="133.6" y="685.2" width="18.8" height="18.8" rx="8.0" fill="#fff" stroke="#000" stroke-width="4.0"/>
</g>
<g fill="#000">
<rect x="140" y="46" width="5" height="962"/>
<rect x="142" y="44" width="1195" height="5"/>
<rect x="1332" y="46.4" width="7.8" height="961.1"/>
<rect x="142" y="1005" width="1193" height="8"/>
</g>
<text class="tk" transform="translate(245.86,1072.6) scale(0.9686,1.0476)">340</text>
<text class="tk" transform="translate(546.07,1072.6) scale(0.9598,1.0476)">360</text>
<text class="tk" transform="translate(842.87,1072.6) scale(0.9641,1.0476)">380</text>
<text class="tk" transform="translate(1142.04,1072.6) scale(0.9622,1.0476)">400</text>
<text class="tk" transform="translate(1355.66,62.6) scale(0.984,1.0584)">100</text>
<text class="tk" transform="translate(1356.46,277.79) scale(0.969,1.0476)">80</text>
<text class="tk" transform="translate(1356.83,490.0) scale(0.9863,1.0632)">60</text>
<text class="tk" transform="translate(1356.0,704.0) scale(0.9934,1.027)">40</text>
<text class="tk" transform="translate(1356.01,917.8) scale(0.9932,1.0632)">20</text>
<text class="ax" transform="translate(536.2,1144.99) scale(0.9965,0.97)">Wavelength (nm)</text>
<text class="ax" transform="translate(71.55,791.37) rotate(-90) scale(0.992,1.0034)">PL Intensity (a.u.)</text>
<text class="ax" transform="translate(1515.21,763.97) rotate(-90) scale(0.9919,0.9836)">Reflectance (%)</text>
<text class="lg" transform="translate(189.68,133.0) scale(1.0374,1.0744)">PL</text>
<rect x="189" y="189.5" width="119.5" height="7" fill="#f00"/>
<text class="lg" transform="translate(317.0,210.0) scale(1.0,1.0057)">DBR-LED</text>
<rect x="189" y="253" width="119.5" height="7.4" fill="#000"/>
<text class="lg" transform="translate(316.96,272.6) scale(1.0207,1.0172)">ST-LED</text>
<text class="lg" transform="translate(927.58,135.6) scale(1.0051,0.9722)">Reflectance</text>
<rect x="929" y="199" width="119.5" height="7" fill="#f00"/>
<circle cx="988.8" cy="202.8" r="9.9" fill="#fff" stroke="#f00" stroke-width="3.2"/>
<text class="lg" transform="translate(1057.0,217.6) scale(1.0,0.9886)">DBR-LED</text>
<rect x="929" y="262" width="119.5" height="7.4" fill="#000"/>
<circle cx="988.8" cy="265.7" r="9.9" fill="#fff" stroke="#000" stroke-width="3.2"/>
<text class="lg" transform="translate(1056.97,281.4) scale(1.0172,1.0172)">ST-LED</text>
</svg>
</body>
</html>
